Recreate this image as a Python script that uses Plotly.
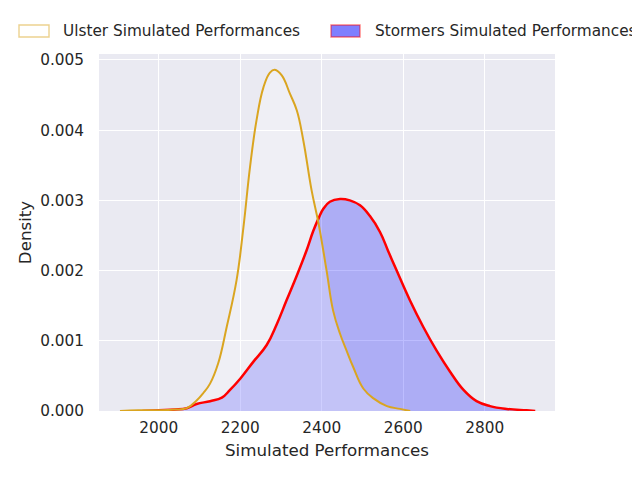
import plotly.graph_objects as go

# Ulster Simulated Performances - KDE density
ulster_x = [1905, 1950, 2000, 2040, 2069, 2093, 2110, 2126, 2146, 2167, 2191, 2208, 2224, 2240,
            2257, 2273, 2285, 2302, 2322, 2339, 2355, 2375, 2392, 2412, 2428, 2445, 2461,
            2477, 2502, 2527, 2560, 2592, 2617]
ulster_y = [0.0, 0.00001, 0.00001, 0.00002, 0.00004, 0.00015, 0.00026, 0.00039, 0.00068, 0.0012,
            0.00186, 0.00262, 0.00347, 0.00414, 0.00461, 0.00482, 0.00486, 0.00478, 0.00452,
            0.00428, 0.00385, 0.00315, 0.00268, 0.002, 0.00143, 0.0011, 0.00086,
            0.00063, 0.00032, 0.00018, 0.00007, 0.00003, 0.0]

# Stormers Simulated Performances - KDE density
stormers_x = [1960, 2000, 2040, 2069, 2093, 2126, 2155, 2175, 2200, 2232, 2265, 2290, 2314, 2339,
              2363, 2379, 2392, 2404, 2420, 2445, 2469, 2494, 2518, 2543, 2563, 2584, 2617, 2649,
              2682, 2715, 2748, 2780, 2813, 2854, 2903, 2924]
stormers_y = [0.0, 0.00001, 0.00002, 0.00004, 0.0001, 0.00014, 0.00019, 0.0003, 0.00046, 0.0007,
              0.00094, 0.00124, 0.00158, 0.00193, 0.00229, 0.00256, 0.00274, 0.00288, 0.00298,
              0.00302, 0.003, 0.00293, 0.00278, 0.00255, 0.00228, 0.002, 0.00157, 0.0012,
              0.00086, 0.00056, 0.0003, 0.00014, 0.00007, 0.00003, 0.00001, 0.0]

series_names = ["Ulster Simulated Performances", "Stormers Simulated Performances"]
x_ticks = [2000, 2200, 2400, 2600, 2800]
y_ticks = [0.0, 0.001, 0.002, 0.003, 0.004, 0.005]
y_ticklabels = ["0.000", "0.001", "0.002", "0.003", "0.004", "0.005"]

TXT = "#262626"
FONT = "DejaVu Sans"
SM = 1.2

fig = go.Figure()
# fills first
fig.add_trace(go.Scatter(x=stormers_x, y=stormers_y, mode="lines", fill="tozeroy",
                         fillcolor="rgba(0,0,255,0.26)",
                         line=dict(width=0, shape="spline", smoothing=SM),
                         showlegend=False, hoverinfo="skip"))
fig.add_trace(go.Scatter(x=ulster_x, y=ulster_y, mode="lines", fill="tozeroy",
                         fillcolor="rgba(255,255,255,0.27)",
                         line=dict(width=0, shape="spline", smoothing=SM),
                         showlegend=False, hoverinfo="skip"))
# lines on top
fig.add_trace(go.Scatter(x=stormers_x, y=stormers_y, mode="lines", name=series_names[1],
                         line=dict(color="#FF0000", width=2.5, shape="spline", smoothing=SM),
                         showlegend=False))
fig.add_trace(go.Scatter(x=ulster_x, y=ulster_y, mode="lines", name=series_names[0],
                         line=dict(color="#DAA520", width=2, shape="spline", smoothing=SM),
                         showlegend=False))

# manual legend (matplotlib style patches); page pixel -> paper coords
def px2paper_x(px):
    return (px - 99) / 456.0

def px2paper_y(py):
    return (411 - py) / 357.0

legend_items = [
    (19, 49, 61, "rgba(255,255,255,0.5)", "rgba(218,165,32,0.5)", series_names[0]),
    (331, 360, 373, "rgba(0,0,255,0.5)", "rgba(255,0,0,0.5)", series_names[1]),
]
for x0, x1, tx, fc, lc, label in legend_items:
    fig.add_shape(type="rect", xref="paper", yref="paper",
                  x0=px2paper_x(x0), x1=px2paper_x(x1),
                  y0=px2paper_y(37), y1=px2paper_y(25),
                  fillcolor=fc, line=dict(color=lc, width=1.4))
    fig.add_annotation(xref="paper", yref="paper", x=px2paper_x(tx), y=px2paper_y(31),
                       text=label, showarrow=False, xanchor="left", yanchor="middle",
                       font=dict(family=FONT, size=15.3, color=TXT))

# page has an 8px body margin, so the figure is 632x472 with margins shifted by 8
fig.update_layout(
    width=632, height=472,
    margin=dict(l=91, r=85, t=46, b=69, autoexpand=False),
    paper_bgcolor="white", plot_bgcolor="#EAEAF2",
    font=dict(family=FONT, size=15.3, color=TXT),
    showlegend=False,
    xaxis=dict(range=[1853.5, 2972.5], tickvals=x_ticks, showgrid=True, gridcolor="white",
               gridwidth=1.4, zeroline=False, showline=False, ticks="",
               tickfont=dict(family=FONT, size=15.3, color=TXT),
               title=dict(text="Simulated Performances", font=dict(family=FONT, size=16.7, color=TXT),
                          standoff=8),
               automargin=False, ticklabelstandoff=6),
    yaxis=dict(range=[0, 0.005085], tickvals=y_ticks, ticktext=y_ticklabels, showgrid=True,
               gridcolor="white", gridwidth=1.4, zeroline=False, showline=False, ticks="",
               tickfont=dict(family=FONT, size=15.3, color=TXT),
               title=dict(text="Density", font=dict(family=FONT, size=16.7, color=TXT), standoff=4),
               automargin=False, ticklabelstandoff=14),
)

fig.write_html("out.html")
